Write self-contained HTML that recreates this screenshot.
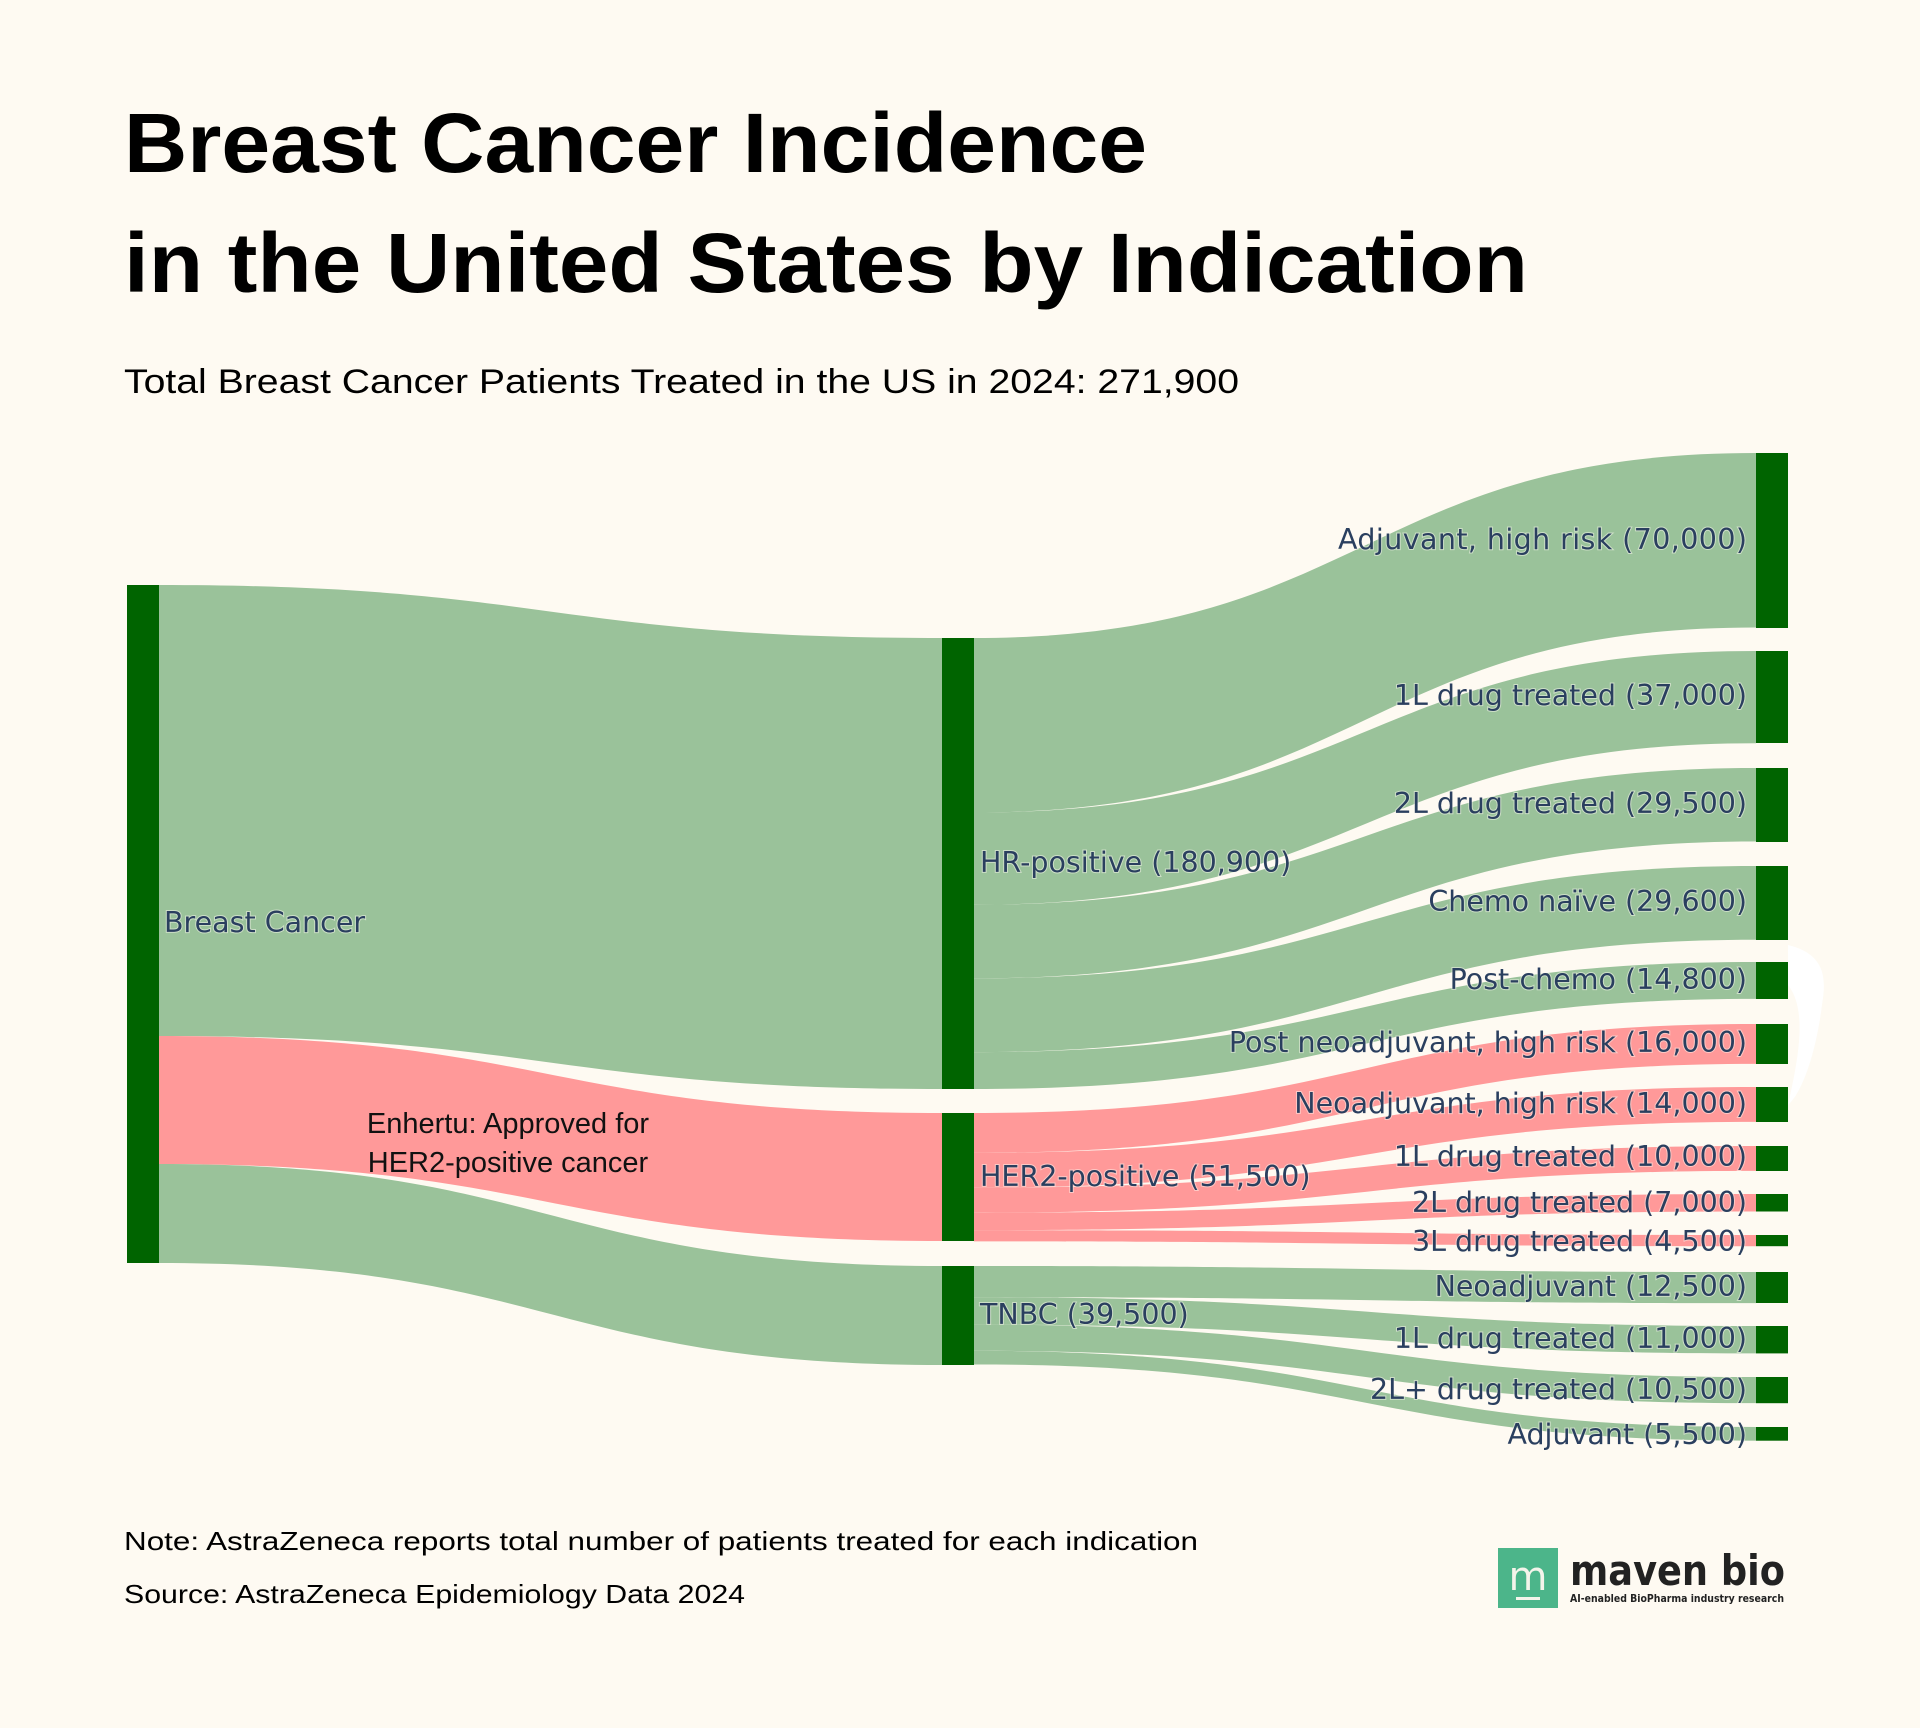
<!DOCTYPE html>
<html><head><meta charset="utf-8"><style>
html,body{margin:0;padding:0;background:#fefaf2;}
svg{display:block;}
</style></head><body>
<svg width="1920" height="1728" viewBox="0 0 1920 1728" xmlns="http://www.w3.org/2000/svg">
<rect width="1920" height="1728" fill="#fefaf2"/>
<g font-family="Liberation Sans, sans-serif" fill="#000">
<text x="124" y="172" font-size="84" font-weight="bold" textLength="1023" lengthAdjust="spacingAndGlyphs">Breast Cancer Incidence</text>
<text x="124" y="292" font-size="84" font-weight="bold" textLength="1404" lengthAdjust="spacingAndGlyphs">in the United States by Indication</text>
<text x="124" y="393" font-size="34" textLength="1115" lengthAdjust="spacingAndGlyphs">Total Breast Cancer Patients Treated in the US in 2024: 271,900</text>
<text x="124" y="1550" font-size="26" textLength="1074" lengthAdjust="spacingAndGlyphs">Note: AstraZeneca reports total number of patients treated for each indication</text>
<text x="124" y="1603" font-size="26" textLength="621" lengthAdjust="spacingAndGlyphs">Source: AstraZeneca Epidemiology Data 2024</text>
</g>
<g id="links"></g>
<path d="M1788 945 C1830 955 1825 985 1822 1005 C1815 1060 1800 1095 1788 1105 C1798 1060 1808 1010 1788 985 Z" fill="#ffffff"/>
<g fill="#006400">
<rect x="127" y="585" width="32" height="678"/>
<rect x="942" y="638" width="32" height="451"/>
<rect x="942" y="1113" width="32" height="128"/>
<rect x="942" y="1266" width="32" height="99"/>
<rect x="1756" y="453" width="32" height="175"/>
<rect x="1756" y="651" width="32" height="92"/>
<rect x="1756" y="768" width="32" height="74"/>
<rect x="1756" y="866" width="32" height="74"/>
<rect x="1756" y="962" width="32" height="37"/>
<rect x="1756" y="1024" width="32" height="40"/>
<rect x="1756" y="1087" width="32" height="35"/>
<rect x="1756" y="1146" width="32" height="25"/>
<rect x="1756" y="1194" width="32" height="17.5"/>
<rect x="1756" y="1235" width="32" height="11.2"/>
<rect x="1756" y="1272" width="32" height="31"/>
<rect x="1756" y="1326" width="32" height="27.4"/>
<rect x="1756" y="1377" width="32" height="26.2"/>
<rect x="1756" y="1427" width="32" height="13.7"/>
</g>
<g font-family="DejaVu Sans, sans-serif" font-size="28.5" fill="#2a3f5f" dominant-baseline="middle" style="paint-order:stroke" stroke="rgba(254,250,242,0.5)" stroke-width="2">
<text x="164" y="924">Breast Cancer</text>
<text x="980" y="864">HR-positive (180,900)</text>
<text x="980" y="1178">HER2-positive (51,500)</text>
<text x="980" y="1316">TNBC (39,500)</text>
<g text-anchor="end">
<text x="1747" y="541" textLength="409" lengthAdjust="spacing">Adjuvant, high risk (70,000)</text>
<text x="1747" y="697">1L drug treated (37,000)</text>
<text x="1747" y="805">2L drug treated (29,500)</text>
<text x="1747" y="903">Chemo naïve (29,600)</text>
<text x="1747" y="981">Post-chemo (14,800)</text>
<text x="1747" y="1044">Post neoadjuvant, high risk (16,000)</text>
<text x="1747" y="1105">Neoadjuvant, high risk (14,000)</text>
<text x="1747" y="1158">1L drug treated (10,000)</text>
<text x="1747" y="1204">2L drug treated (7,000)</text>
<text x="1747" y="1243">3L drug treated (4,500)</text>
<text x="1747" y="1288">Neoadjuvant (12,500)</text>
<text x="1747" y="1340">1L drug treated (11,000)</text>
<text x="1747" y="1391">2L+ drug treated (10,500)</text>
<text x="1747" y="1436">Adjuvant (5,500)</text>
</g>
</g>
<g font-family="Liberation Sans, sans-serif" font-size="29" fill="#111" text-anchor="middle">
<text x="508" y="1133">Enhertu: Approved for</text>
<text x="508" y="1172">HER2-positive cancer</text>
</g>
<rect x="1498" y="1548" width="60" height="60" fill="#4cb58a"/>
<text x="1528" y="1590" font-family="DejaVu Sans, sans-serif" font-size="40" fill="#f4f4ea" text-anchor="middle">m</text>
<rect x="1516" y="1597" width="24" height="3" fill="#f4f4ea"/>
<text x="1570" y="1585" font-family="DejaVu Sans, sans-serif" font-weight="bold" font-size="42" fill="#222" textLength="215" lengthAdjust="spacingAndGlyphs">maven bio</text>
<text x="1570" y="1602" font-family="DejaVu Sans, sans-serif" font-weight="bold" font-size="11" fill="#222" textLength="214" lengthAdjust="spacingAndGlyphs">AI-enabled BioPharma industry research</text>
<script>
(function(){
var g=document.getElementById('links');
var G='#9ac29a',P='#ff9999';
function link(x0,x1,s0,s1,t0,t1,c){
 var m=(x0+x1)/2;
 var d='M'+x0+' '+s0+' C'+m+' '+s0+' '+m+' '+t0+' '+x1+' '+t0+' L'+x1+' '+t1+' C'+m+' '+t1+' '+m+' '+s1+' '+x0+' '+s1+' Z';
 var p=document.createElementNS('http://www.w3.org/2000/svg','path');
 p.setAttribute('d',d);p.setAttribute('fill',c);g.appendChild(p);
}
link(159,942,585,1036,638,1089,G);
link(159,942,1036,1164,1113,1241,P);
link(159,942,1164,1263,1266,1365,G);
var k=451/180900;
var hr=[[70000,453],[37000,651],[29500,768],[29600,866],[14800,962]];
var y=638;
hr.forEach(function(a){var h=a[0]*k;link(974,1756,y,y+h,a[1],a[1]+h,G);y+=h;});
var her=[[16000,1024],[14000,1087],[10000,1146],[7000,1194],[4500,1235]];
y=1113;
her.forEach(function(a){var h=a[0]*k;link(974,1756,y,y+h,a[1],a[1]+h,P);y+=h;});
var tn=[[12500,1272],[11000,1326],[10500,1377],[5500,1427]];
y=1266;
tn.forEach(function(a){var h=a[0]*k;link(974,1756,y,y+h,a[1],a[1]+h,G);y+=h;});
})();
</script>
</svg>
</body></html>
